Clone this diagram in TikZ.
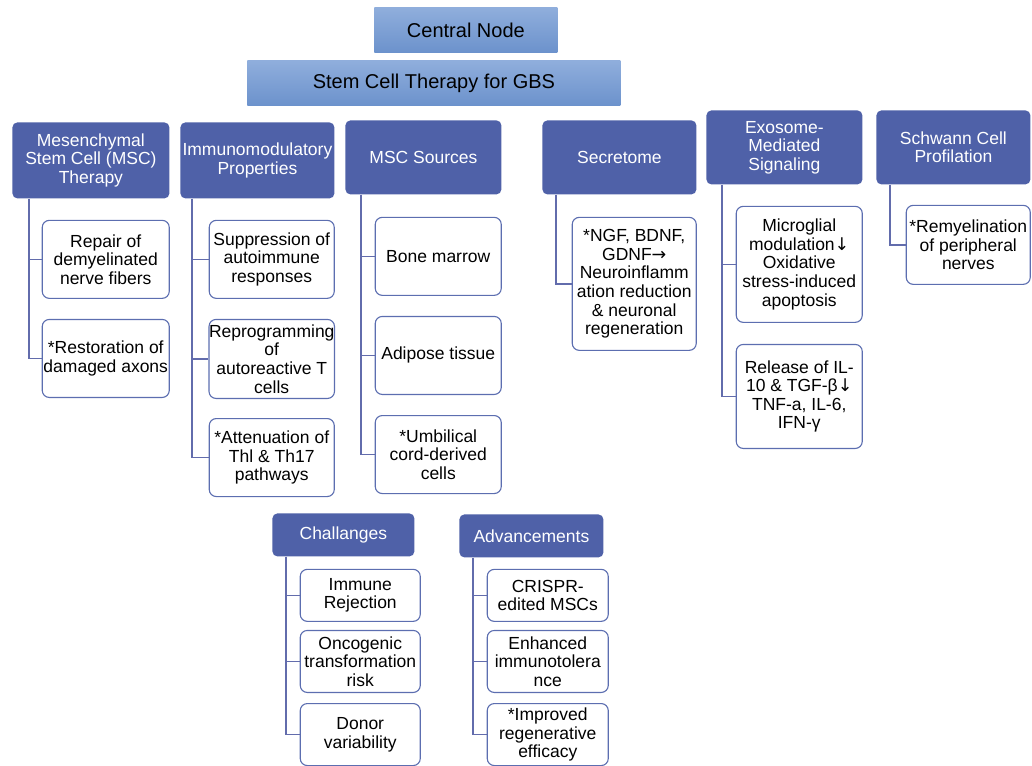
\documentclass[tikz,border=0pt]{standalone}
\usepackage{fontspec}
\setmainfont{Liberation Sans}
\newfontfamily\arrowfont{DejaVu Sans}
\usepackage{tikz}
\usetikzlibrary{arrows.meta,positioning}
\usepackage{xcolor}
\definecolor{catblue}{RGB}{79,97,168}
\definecolor{leafline}{RGB}{92,110,176}
\definecolor{linkblue}{RGB}{98,108,172}
\definecolor{topblue}{RGB}{124,160,214}
\definecolor{topdark}{RGB}{108,146,204}
\newcommand{\ar}[1]{{\arrowfont #1}}

\begin{document}
\begin{tikzpicture}[
    x=1pt,y=-1pt,
    node distance=20pt,
    top/.style={rectangle,top color=topblue!85!white,bottom color=topdark,
                minimum height=45pt,font=\fontsize{20}{22}\selectfont},
    cat/.style={rectangle,rounded corners=5pt,fill=catblue,text=white,align=center,
                minimum height=74pt,inner sep=1pt,font=\fontsize{17.5}{18.5}\selectfont},
    leaf/.style={rectangle,rounded corners=7pt,draw=leafline,line width=1.1pt,fill=white,
                 align=center,inner xsep=0pt,font=\fontsize{17.5}{18.6}\selectfont},
    link/.style={draw=linkblue,line width=1.5pt},
    >=Latex,thick
  ]
    \useasboundingbox (0,0) rectangle (1032,765);

    \node[top,minimum width=183pt,anchor=north west] (central) at (374,7) {Central Node};
    \node[top,minimum width=373pt,anchor=north west] (gbs) at (247,60) {Stem Cell Therapy for GBS};

    \node[cat,minimum width=157pt,minimum height=76pt,anchor=north west] (msc) at (12,122)
      {Mesenchymal\\Stem Cell (MSC)\\Therapy};
    \node[cat,minimum width=154pt,minimum height=76pt,anchor=north west] (imm) at (180,122)
      {Immunomodulatory\\Properties};
    \node[cat,minimum width=156pt,anchor=north west] (src) at (345,120) {MSC Sources};
    \node[cat,minimum width=154pt,anchor=north west] (sec) at (542,120) {Secretome};
    \node[cat,minimum width=156pt,anchor=north west] (exo) at (706,110)
      {Exosome-\\Mediated\\Signaling};
    \node[cat,minimum width=154pt,anchor=north west] (sch) at (876,110)
      {Schwann Cell\\Profilation};
    \node[cat,minimum width=142pt,minimum height=43pt,anchor=north west] (cha) at (272,513) {Challanges};
    \node[cat,minimum width=144pt,minimum height=43pt,anchor=north west] (adv) at (459,514) {Advancements};

    \node[leaf,minimum width=127pt,minimum height=78pt,below=21pt of msc.south east,anchor=north east] (msc1)
      {Repair of\\demyelinated\\nerve fibers};
    \node[leaf,minimum width=127pt,minimum height=78pt,below=of msc1] (msc2)
      {*Restoration of\\damaged axons};

    \node[leaf,minimum width=125pt,minimum height=78pt,below=21pt of imm.south east,anchor=north east] (imm1)
      {Suppression of\\autoimmune\\responses};
    \node[leaf,minimum width=125pt,minimum height=79pt,below=of imm1] (imm2)
      {Reprogramming\\of\\autoreactive T\\cells};
    \node[leaf,minimum width=125pt,minimum height=78pt,below=19pt of imm2] (imm3)
      {*Attenuation of\\Thl \& Th17\\pathways};

    \node[leaf,minimum width=126pt,minimum height=78pt,below=22pt of src.south east,anchor=north east] (src1)
      {Bone marrow};
    \node[leaf,minimum width=126pt,minimum height=78pt,below=of src1] (src2) {Adipose tissue};
    \node[leaf,minimum width=126pt,minimum height=78pt,below=of src2] (src3)
      {*Umbilical\\cord-derived\\cells};

    \node[leaf,minimum width=124pt,minimum height=133pt,below=22pt of sec.south east,anchor=north east] (sec1)
      {*NGF, BDNF,\\GDNF\ar{→}\\Neuroinflamm\\ation reduction\\\& neuronal\\regeneration};

    \node[leaf,minimum width=126pt,minimum height=116pt,below=21pt of exo.south east,anchor=north east] (exo1)
      {Microglial\\modulation\ar{↓}\\Oxidative\\stress-induced\\apoptosis};
    \node[leaf,minimum width=126pt,minimum height=104pt,below=21pt of exo1] (exo2)
      {Release of IL-\\10 \& TGF-β\ar{↓}\\TNF-a, IL-6,\\IFN-γ};

    \node[leaf,minimum width=124pt,minimum height=79pt,below=20pt of sch.south east,anchor=north east] (sch1)
      {*Remyelination\\of peripheral\\nerves};

    \node[leaf,minimum width=120pt,minimum height=52pt,below=12pt of cha.south east,anchor=north east,xshift=6pt] (cha1)
      {Immune\\Rejection};
    \node[leaf,minimum width=120pt,minimum height=62pt,below=8pt of cha1] (cha2)
      {Oncogenic\\transformation\\risk};
    \node[leaf,minimum width=120pt,minimum height=62pt,below=10pt of cha2] (cha3)
      {Donor\\variability};

    \node[leaf,minimum width=121pt,minimum height=52pt,below=11pt of adv.south east,anchor=north east,xshift=5pt] (adv1)
      {CRISPR-\\edited MSCs};
    \node[leaf,minimum width=121pt,minimum height=62pt,below=8pt of adv1] (adv2)
      {Enhanced\\immunotolera\\nce};
    \node[leaf,minimum width=121pt,minimum height=62pt,below=10pt of adv2] (adv3)
      {*Improved\\regenerative\\efficacy};

    \foreach \c in {msc1,msc2} \draw[link] ([xshift=17pt]msc.south west) |- (\c.west);
    \foreach \c in {imm1,imm2,imm3} \draw[link] ([xshift=12pt]imm.south west) |- (\c.west);
    \foreach \c in {src1,src2,src3} \draw[link] ([xshift=16pt]src.south west) |- (\c.west);
    \draw[link] ([xshift=14pt]sec.south west) |- (sec1.west);
    \foreach \c in {exo1,exo2} \draw[link] ([xshift=16pt]exo.south west) |- (\c.west);
    \draw[link] ([xshift=14pt]sch.south west) |- (sch1.west);
    \foreach \c in {cha1,cha2,cha3} \draw[link] ([xshift=14pt]cha.south west) |- (\c.west);
    \foreach \c in {adv1,adv2,adv3} \draw[link] ([xshift=14pt]adv.south west) |- (\c.west);
  \end{tikzpicture}
\end{document}
